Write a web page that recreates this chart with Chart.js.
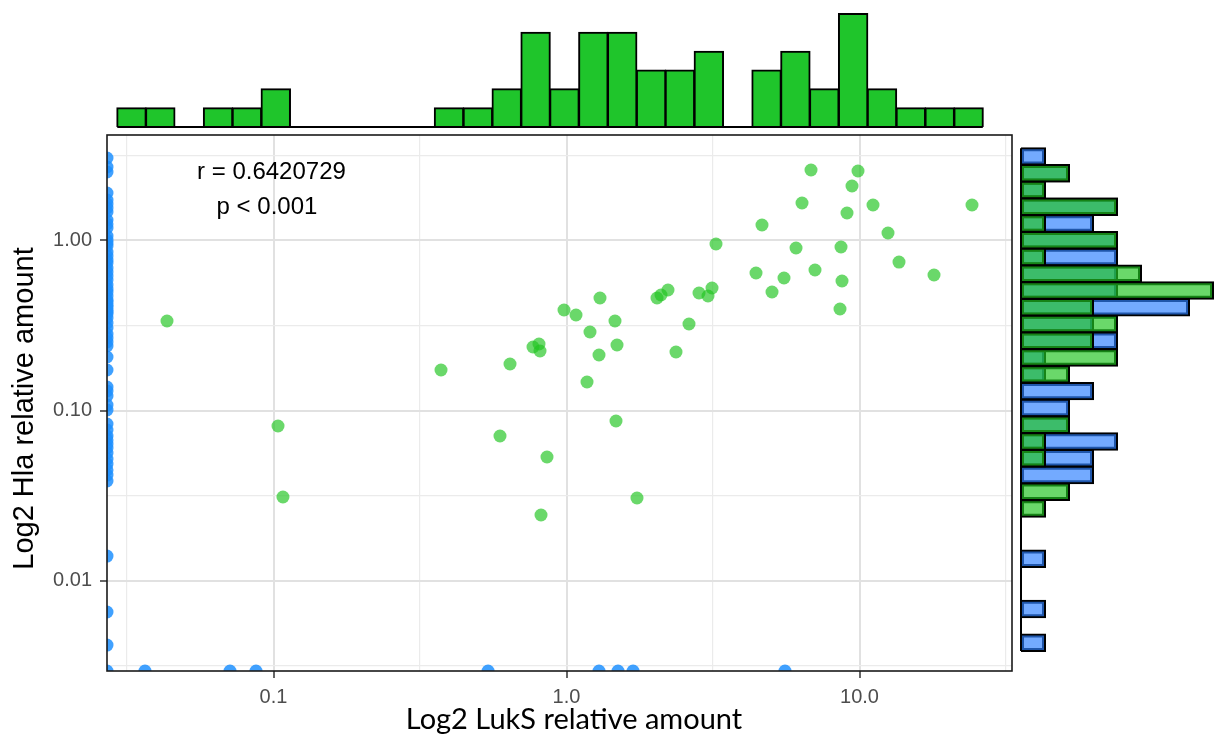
<!DOCTYPE html>
<html>
<head>
<meta charset="utf-8">
<script src="https://cdn.jsdelivr.net/npm/chart.js@4.4.1/dist/chart.umd.min.js"></script>
<style>
  html, body { margin: 0; padding: 0; background: #ffffff; }
  #wrap { position: relative; width: 1216px; height: 743px; overflow: hidden; }
  #wrap canvas { position: absolute; left: 0; top: 0; width: 1216px; height: 743px; pointer-events: none; }
</style>
</head>
<body>
<div id="wrap">
  <canvas id="mainChart" width="1216" height="743"></canvas>
  <canvas id="topHist" width="1216" height="743"></canvas>
  <canvas id="rightHist" width="1216" height="743"></canvas>
</div>
<script>
// ---------------- data ----------------
// samples with both values > 0
const greenX = [0.0433,0.1036,0.1077,0.3730,0.5929,0.6415,0.7686,0.8056,0.8121,0.8578,0.8185,0.9806,1.0775,1.2027,1.2910,1.3011,1.1749,1.4638,1.4873,1.4754,1.7400,2.0366,2.1013,2.2200,2.3642,2.6185,2.8333,3.0404,3.1378,3.2376,4.6473,4.4340,5.0280,5.5251,6.0727,6.3653,6.832,7.0487,8.579,8.6480,8.7160,9.0643,9.4282,9.8833,11.119,12.511,13.641,17.961,24.210];
const greenY = [0.3361,0.08106,0.03099,0.1731,0.07079,0.1877,0.2363,0.2462,0.2239,0.05327,0.02428,0.3901,0.3646,0.2896,0.2121,0.4590,0.1471,0.3361,0.2428,0.08673,0.03057,0.4590,0.4780,0.5115,0.2208,0.3227,0.4911,0.4715,0.5255,0.9537,1.2337,0.6440,0.4978,0.6018,0.9034,1.6618,2.5982,0.6707,0.3955,0.9158,0.5778,1.4515,2.0923,2.5630,1.6173,1.1069,0.7470,0.6268,1.6173];
// samples with LukS = 0 (shown on the left axis floor): Hla values
const blueEdgeY = [3.057,2.706,2.528,1.903,1.731,1.640,1.553,1.471,1.320,1.251,1.184,1.063,1.007,0.9667,0.9282,0.8559,0.8106,0.7678,0.7371,0.6891,0.6528,0.6183,0.5855,0.5472,0.5185,0.4978,0.4715,0.4467,0.4347,0.4174,0.4062,0.3901,0.3797,0.3695,0.3500,0.3271,0.3057,0.2818,0.2670,0.2529,0.2395,0.2064,0.1731,0.1375,0.1302,0.1217,0.1077,0.1007,0.0833,0.0768,0.0708,0.0671,0.0635,0.0602,0.0562,0.0518,0.0484,0.0447,0.0417,0.0385,0.01393,0.00653,0.00417];
// samples with Hla = 0 (shown on the bottom axis floor): LukS values
const blueBottomX = [0.02702,0.03642,0.07104,0.08715,0.5398,1.291,1.499,1.687,5.568];

// axes
const xTickValues = [0.1, 1, 10];
const xTickLabels = ['0.1', '1.0', '10.0'];
const xMinorValues = [0.03162, 0.3162, 3.162, 31.62];
const yTickValues = [0.01, 0.1, 1];
const yTickLabels = ['0.01', '0.10', '1.00'];
const yMinorValues = [0.003162, 0.03162, 0.3162, 3.162];
const xTitle = 'Log2 LukS relative amount';
const yTitle = 'Log2 Hla relative amount';

// top marginal histogram (LukS)
const topBinCenters = [0.03275,0.04108,0.05155,0.06467,0.08115,0.1018,0.1277,0.1602,0.2011,0.2523,0.3165,0.3971,0.4983,0.6252,0.7843,0.9840,1.2347,1.5493,1.9443,2.4383,3.0605,3.8387,4.8164,6.0423,7.5822,9.5127,11.934,14.970,18.789,23.572];
const topCounts = [1,1,0,1,1,2,0,0,0,0,0,1,1,2,5,2,5,5,3,3,4,0,3,4,2,6,2,1,1,1];

// right marginal histogram (Hla), two groups
const rightBinCenters = [3.1247,2.4900,1.9843,1.5809,1.2598,1.0039,0.79983,0.63738,0.50793,0.40467,0.32248,0.25698,0.20474,0.16315,0.13001,0.10359,0.082546,0.065780,0.052420,0.041764,0.033282,0.026522,0.021131,0.016839,0.013418,0.010691,0.0085197,0.0067893,0.0054091,0.0043105];
const rightGreenCounts = [0,2,1,4,1,4,1,5,8,3,4,3,4,2,0,0,2,1,1,0,2,1,0,0,0,0,0,0,0,0];
const rightBlueCounts  = [1,2,1,4,3,4,4,4,4,7,3,4,1,1,3,2,2,4,3,3,0,0,0,0,1,0,0,1,0,1];

const statLines = ['r = 0.6420729', 'p < 0.001'];

// ---------------- layout / style ----------------
const X_MIN = 0.02702, X_MAX = 33.15, Y_MIN = 0.002936, Y_MAX = 4.174;
const TOP_COUNT_MAX = 6.74, RIGHT_COUNT_MAX = 8.125;
const STAT_POS = [{x: 0.0984, y: 2.529}, {x: 0.0950, y: 1.574}];
const X_TITLE_SHIFT = 14.5, X_TITLE_DROP = 48.6;
const Y_TITLE_X = 25.4, Y_TITLE_SHIFT = 5.5;

const GREEN_SOLID = '#1fc52b';
const GREEN_A = 'rgba(33,197,33,0.67)';
const BLUE_A = 'rgba(46,128,255,0.67)';
const GREEN_PT = 'rgba(33,197,33,0.67)';
const BLUE_PT = 'rgba(30,144,255,0.85)';
const TICK_FONT = {family: "'Liberation Sans', Arial, sans-serif", size: 20};

Chart.defaults.animation = false;
Chart.defaults.events = [];
Chart.defaults.plugins.legend.display = false;
Chart.defaults.plugins.tooltip.enabled = false;

function matchIdx(v, list) {
  return list.findIndex(t => Math.abs(Math.log10(v) - Math.log10(t)) < 1e-3);
}
function gridFor(majors) {
  const maj = c => c.tick && matchIdx(c.tick.value, majors) >= 0;
  return {
    drawOnChartArea: true,
    drawTicks: true,
    tickLength: 7,
    tickWidth: 1.5,
    color: c => maj(c) ? '#e1e1e1' : '#ebebeb',
    lineWidth: c => maj(c) ? 2 : 1.2,
    tickColor: c => maj(c) ? '#333333' : 'rgba(0,0,0,0)'
  };
}
function setTicks(majors, minors) {
  return scale => {
    scale.ticks = majors.concat(minors).sort((a, b) => a - b).map(v => ({value: v}));
  };
}

const panelBorder = {
  id: 'panelBorder',
  afterDatasetsDraw(chart) {
    const {ctx, chartArea: a} = chart;
    ctx.save();
    ctx.strokeStyle = '#1a1a1a';
    ctx.lineWidth = 1.6;
    ctx.strokeRect(a.left, a.top, a.right - a.left, a.bottom - a.top);
    ctx.restore();
  }
};
const statText = {
  id: 'statText',
  afterDatasetsDraw(chart) {
    const {ctx, scales} = chart;
    ctx.save();
    ctx.font = "24px 'Liberation Sans', Arial, sans-serif";
    ctx.fillStyle = '#000000';
    ctx.textAlign = 'center';
    ctx.textBaseline = 'middle';
    statLines.forEach((t, i) => {
      ctx.fillText(t, scales.x.getPixelForValue(STAT_POS[i].x), scales.y.getPixelForValue(STAT_POS[i].y));
    });
    ctx.restore();
  }
};
const axisTitles = {
  id: 'axisTitles',
  afterDraw(chart) {
    const {ctx, chartArea: a} = chart;
    ctx.save();
    ctx.fillStyle = '#000000';
    ctx.textAlign = 'center';
    ctx.textBaseline = 'middle';
    ctx.font = "29px Lato, 'Liberation Sans', sans-serif";
    ctx.fillText(xTitle, (a.left + a.right) / 2 + X_TITLE_SHIFT, a.bottom + X_TITLE_DROP);
    ctx.translate(Y_TITLE_X, (a.top + a.bottom) / 2 + Y_TITLE_SHIFT);
    ctx.rotate(-Math.PI / 2);
    ctx.font = "29px 'Liberation Sans', Arial, sans-serif";
    ctx.fillText(yTitle, 0, 0);
    ctx.restore();
  }
};

// ---------------- main scatter ----------------
new Chart(document.getElementById('mainChart'), {
  type: 'scatter',
  data: {
    datasets: [
      {label: 'both > 0', data: greenX.map((x, i) => ({x, y: greenY[i]})), backgroundColor: GREEN_PT, pointRadius: 6.5, pointBorderWidth: 0, pointHoverRadius: 6.5, clip: 0},
      {label: 'LukS = 0', data: blueEdgeY.map(y => ({x: X_MIN, y})), backgroundColor: BLUE_PT, pointRadius: 6.5, pointBorderWidth: 0, pointHoverRadius: 6.5, clip: 0},
      {label: 'Hla = 0', data: blueBottomX.map(x => ({x, y: Y_MIN})), backgroundColor: BLUE_PT, pointRadius: 6.5, pointBorderWidth: 0, pointHoverRadius: 6.5, clip: 0}
    ]
  },
  options: {
    responsive: false,
    layout: {padding: {left: 0, top: 135, right: 204, bottom: 0}},
    scales: {
      x: {
        type: 'logarithmic', min: X_MIN, max: X_MAX, offset: false,
        afterBuildTicks: setTicks(xTickValues, xMinorValues),
        afterFit: s => { s.height = 72; },
        ticks: {
          autoSkip: false, maxRotation: 0, padding: 7, font: TICK_FONT, color: '#4d4d4d',
          callback: v => { const i = matchIdx(v, xTickValues); return i >= 0 ? xTickLabels[i] : ''; }
        },
        grid: gridFor(xTickValues),
        border: {display: false},
        title: {display: false, text: xTitle}
      },
      y: {
        type: 'logarithmic', min: Y_MIN, max: Y_MAX, offset: false,
        afterBuildTicks: setTicks(yTickValues, yMinorValues),
        afterFit: s => { s.width = 107; },
        ticks: {
          autoSkip: false, padding: 8, font: TICK_FONT, color: '#4d4d4d',
          callback: v => { const i = matchIdx(v, yTickValues); return i >= 0 ? yTickLabels[i] : ''; }
        },
        grid: gridFor(yTickValues),
        border: {display: false},
        title: {display: false, text: yTitle}
      }
    }
  },
  plugins: [panelBorder, statText, axisTitles]
});

// ---------------- histogram baseline helper ----------------
const baseline = {
  id: 'baseline',
  beforeDatasetsDraw(chart, args, opts) {
    const meta = chart.getDatasetMeta(0);
    const els = meta.data;
    if (!els.length) return;
    const {ctx} = chart;
    ctx.save();
    ctx.strokeStyle = '#000000';
    ctx.lineWidth = 2;
    ctx.beginPath();
    const f = els[0], l = els[els.length - 1];
    if (opts.horizontal) {
      const x0 = chart.scales.x.getPixelForValue(0);
      ctx.moveTo(x0, Math.min(f.y, l.y) - f.height / 2);
      ctx.lineTo(x0, Math.max(f.y, l.y) + l.height / 2);
    } else {
      const y0 = chart.scales.y.getPixelForValue(0);
      ctx.moveTo(Math.min(f.x, l.x) - f.width / 2, y0);
      ctx.lineTo(Math.max(f.x, l.x) + l.width / 2, y0);
    }
    ctx.stroke();
    ctx.restore();
  }
};
const fillIf = (color, key) => c => (c.raw && c.raw[key] > 0) ? color : 'rgba(0,0,0,0)';

// ---------------- top histogram ----------------
new Chart(document.getElementById('topHist'), {
  type: 'bar',
  data: {
    datasets: [{
      label: 'LukS',
      data: topBinCenters.map((c, i) => ({x: c, y: topCounts[i]})),
      backgroundColor: fillIf(GREEN_SOLID, 'y'),
      borderColor: '#000000', borderWidth: 2, borderSkipped: false, inflateAmount: 1,
      categoryPercentage: 1, barPercentage: 1
    }]
  },
  options: {
    responsive: false,
    layout: {padding: {left: 107, right: 204, top: 0, bottom: 616}},
    scales: {
      x: {type: 'logarithmic', min: X_MIN, max: X_MAX, offset: false, display: false},
      y: {type: 'linear', min: 0, max: TOP_COUNT_MAX, display: false}
    },
    plugins: {baseline: {horizontal: false}}
  },
  plugins: [baseline]
});

// ---------------- right histogram ----------------
new Chart(document.getElementById('rightHist'), {
  type: 'bar',
  data: {
    datasets: [
      {
        label: 'Hla (both > 0)',
        data: rightBinCenters.map((c, i) => ({y: c, x: rightGreenCounts[i]})),
        backgroundColor: fillIf(GREEN_A, 'x'),
        borderColor: '#000000', borderWidth: 2, borderSkipped: false, inflateAmount: 1,
        categoryPercentage: 1, barPercentage: 1, grouped: false
      },
      {
        label: 'Hla (LukS = 0)',
        data: rightBinCenters.map((c, i) => ({y: c, x: rightBlueCounts[i]})),
        backgroundColor: fillIf(BLUE_A, 'x'),
        borderColor: '#000000', borderWidth: 2, borderSkipped: false, inflateAmount: 1,
        categoryPercentage: 1, barPercentage: 1, grouped: false
      }
    ]
  },
  options: {
    responsive: false,
    indexAxis: 'y',
    layout: {padding: {left: 1021, right: 0, top: 135, bottom: 72}},
    scales: {
      y: {type: 'logarithmic', min: Y_MIN, max: Y_MAX, offset: false, display: false},
      x: {type: 'linear', min: 0, max: RIGHT_COUNT_MAX, display: false}
    },
    plugins: {baseline: {horizontal: true}}
  },
  plugins: [baseline]
});
</script>
</body>
</html>
